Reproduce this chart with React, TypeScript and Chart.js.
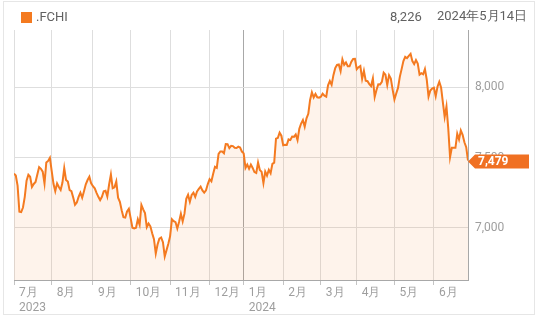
import React, { useEffect, useRef } from "react";
import { Chart, registerables } from "chart.js";

Chart.register(...registerables);

// CAC 40 (.FCHI) daily closes, one entry per trading day
const jul2023 = [7386, 7372, 7300, 7114, 7111, 7144, 7220, 7336, 7378, 7363, 7291, 7312, 7326, 7380, 7432, 7420, 7400, 7315, 7465, 7476, 7498];
const aug2023 = [7406, 7313, 7261, 7316, 7290, 7269, 7322, 7425, 7341, 7329, 7268, 7260, 7215, 7164, 7180, 7220, 7250, 7214, 7260, 7310, 7340, 7364, 7316];
const sep2023 = [7296, 7281, 7249, 7220, 7197, 7220, 7260, 7264, 7222, 7308, 7379, 7282, 7288, 7330, 7214, 7184, 7124, 7075, 7072, 7116, 7135];
const oct2023 = [7068, 7000, 6995, 7000, 7060, 7021, 7162, 7131, 7104, 7004, 7030, 7010, 6960, 6918, 6816, 6880, 6922, 6930, 6897, 6795, 6840, 6885];
const nov2023 = [6940, 7060, 7047, 7040, 6995, 7043, 7100, 7045, 7100, 7206, 7235, 7185, 7234, 7250, 7220, 7258, 7277, 7293, 7266, 7250, 7267, 7311];
const dec2023 = [7346, 7331, 7385, 7434, 7427, 7526, 7544, 7543, 7531, 7597, 7596, 7568, 7584, 7582, 7570, 7568, 7578, 7572, 7543];
const jan2024 = [7530, 7426, 7450, 7420, 7450, 7426, 7397, 7390, 7465, 7411, 7398, 7318, 7401, 7372, 7413, 7388, 7455, 7464, 7635, 7640, 7678, 7656];
const feb2024 = [7588, 7592, 7590, 7630, 7625, 7650, 7648, 7665, 7625, 7706, 7743, 7768, 7720, 7780, 7812, 7911, 7966, 7929, 7954, 7930, 7927];
const mar2024 = [7934, 7956, 7942, 7935, 8016, 8046, 8019, 8088, 8138, 8161, 8164, 8117, 8201, 8161, 8179, 8152, 8151, 8184, 8204, 8205];
const apr2024 = [8130, 8145, 8153, 8061, 8119, 8049, 8045, 8024, 8010, 8065, 7932, 7982, 8023, 8022, 8040, 8106, 8091, 8017, 8088, 8064, 7985];
const may2024 = [7915, 7957, 7997, 8076, 8131, 8188, 8219, 8209, 8226, 8240, 8188, 8167, 8195, 8170, 8092, 8102, 8094, 8132, 8057, 7935, 7979, 7992];
const jun2024 = [7998, 7938, 8006, 8040, 8001, 7893, 7790, 7865, 7708, 7503, 7571, 7571, 7570, 7670, 7629, 7693, 7662, 7609, 7574, 7479];

const months = [jul2023, aug2023, sep2023, oct2023, nov2023, dec2023, jan2024, feb2024, mar2024, apr2024, may2024, jun2024];
const monthLabels = ["7月", "8月", "9月", "10月", "11月", "12月", "1月", "2月", "3月", "4月", "5月", "6月"];
const yearLabels = ["2023", "", "", "", "", "", "2024", "", "", "", "", ""];
const yTickValues = [7000, 7500, 8000];

const seriesName = ".FCHI";
const headerValue = "8,226";
const headerDate = "2024年5月14日";

const series: number[] = months.flat();
const monthStarts: number[] = [];
{
  let acc = 0;
  for (const m of months) {
    monthStarts.push(acc);
    acc += m.length;
  }
}

const ORANGE = "#f47a20";
const fmt = (v: number) => v.toLocaleString("en-US");

const tagPlugin = {
  id: "lastTag",
  afterDraw(chart: any) {
    const meta = chart.getDatasetMeta(0);
    const pt = meta.data[meta.data.length - 1];
    if (!pt) return;
    const ctx = chart.ctx;
    const x = chart.chartArea.right;
    const y = pt.y + 1;
    ctx.save();
    ctx.fillStyle = "#f07022";
    ctx.beginPath();
    ctx.moveTo(x, y);
    ctx.lineTo(x + 7, y - 7);
    ctx.lineTo(x + 61, y - 7);
    ctx.lineTo(x + 61, y + 7);
    ctx.lineTo(x + 7, y + 7);
    ctx.closePath();
    ctx.fill();
    ctx.fillStyle = "#ffffff";
    ctx.font = "bold 12px Roboto";
    ctx.textBaseline = "middle";
    ctx.textAlign = "left";
    ctx.fillText(fmt(series[series.length - 1]), x + 10, y + 0.5);
    ctx.restore();
  },
};

export default function App() {
  const ref = useRef<HTMLCanvasElement>(null);
  useEffect(() => {
    const chart = new Chart(ref.current!, {
      type: "line",
      data: {
        datasets: [
          {
            data: series.map((v, i) => ({ x: i, y: v })),
            borderColor: ORANGE,
            backgroundColor: "rgba(245, 124, 34, 0.09)",
            fill: "start",
            pointRadius: 0,
            borderWidth: 2,
            tension: 0,
          },
        ],
      },
      options: {
        animation: false,
        responsive: false,
        maintainAspectRatio: false,
        layout: { padding: { left: 14, top: 30, right: 0, bottom: 0 } },
        plugins: { legend: { display: false }, tooltip: { enabled: false } },
        scales: {
          x: {
            type: "linear",
            min: 0,
            max: series.length - 1,
            afterBuildTicks: (s: any) => {
              s.ticks = monthStarts.map((v) => ({ value: v }));
            },
            afterFit: (s: any) => {
              s.height = 44;
            },
            ticks: {
              autoSkip: false,
              maxRotation: 0,
              align: "start",
              labelOffset: 5,
              padding: 0,
              color: "#9e9e9e",
              font: { family: "Roboto", size: 12, lineHeight: 1.3 },
              callback: (v: any) => {
                const k = monthStarts.indexOf(Number(v));
                if (k < 0) return "";
                return yearLabels[k] ? [monthLabels[k], yearLabels[k]] : monthLabels[k];
              },
            },
            grid: {
              color: (c: any) => (c.tick && c.tick.value === monthStarts[6] ? "#a8a8a8" : "#dedede"),
              tickLength: 5,
              tickColor: "#c4c4c4",
            },
            border: { color: "#a8a8a8" },
          },
          y: {
            position: "right",
            min: 6627,
            max: 8410,
            afterBuildTicks: (s: any) => {
              s.ticks = yTickValues.map((v) => ({ value: v }));
            },
            afterFit: (s: any) => {
              s.width = 72;
            },
            ticks: {
              padding: 7,
              color: "#9e9e9e",
              font: { family: "Roboto", size: 12 },
              callback: (v: any) => fmt(Number(v)),
            },
            grid: { color: "#dedede", drawTicks: false },
            border: { color: "#a8a8a8" },
          },
        },
      },
      plugins: [tagPlugin],
    } as any);
    return () => chart.destroy();
  }, []);

  const textStyle: React.CSSProperties = {
    position: "absolute",
    fontFamily: "Roboto",
    fontSize: 13,
    color: "#616161",
    lineHeight: "16px",
    whiteSpace: "nowrap",
  };

  return (
    <div style={{ position: "fixed", left: 0, top: 0, width: 540, height: 324, background: "#fff" }}>
      <div
        style={{
          position: "absolute",
          left: 3,
          top: 1,
          width: 532,
          height: 314,
          border: "1px solid #e6e6e6",
          boxSizing: "border-box",
        }}
      />
      <canvas ref={ref} width={540} height={324} style={{ position: "absolute", left: 0, top: 0 }} />
      <div style={{ position: "absolute", left: 21, top: 12, width: 11, height: 11, background: ORANGE }} />
      <div style={{ ...textStyle, left: 36, top: 9 }}>{seriesName}</div>
      <div style={{ ...textStyle, left: 390, top: 9 }}>{headerValue}</div>
      <div style={{ ...textStyle, left: 437, top: 8 }}>{headerDate}</div>
    </div>
  );
}
